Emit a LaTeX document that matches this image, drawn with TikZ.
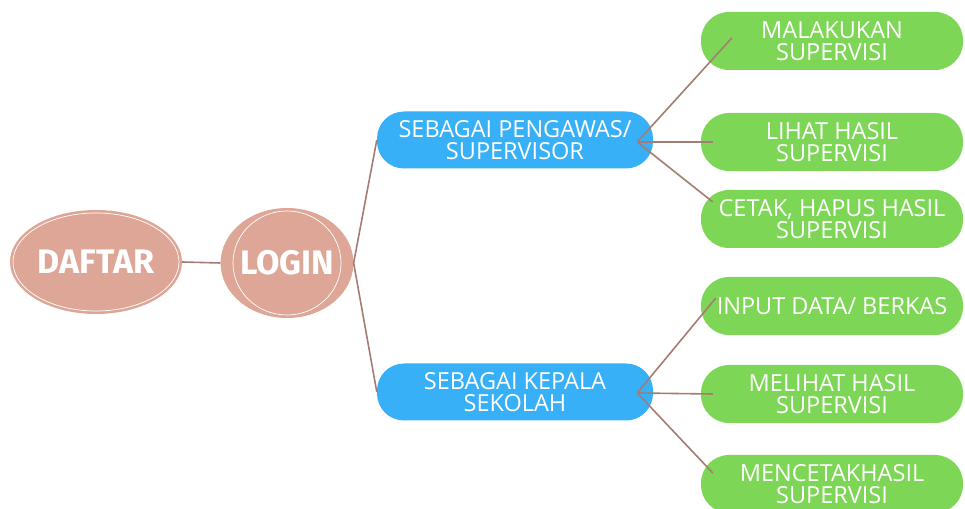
\documentclass[tikz,border=0pt]{standalone}
\usepackage{fontspec}
\setmainfont{Open Sans}
\newfontfamily\headfont{Fira Sans}
\usetikzlibrary{shapes.geometric,calc}
\definecolor{pinkfill}{RGB}{222,166,150}
\definecolor{roleblue}{RGB}{56,176,248}
\definecolor{taskgreen}{RGB}{126,214,86}
\definecolor{linkbrown}{RGB}{165,124,114}

\begin{document}
\begin{tikzpicture}[x=1pt,y=1pt,
  oval/.style={ellipse,fill=pinkfill,text=white,inner sep=0pt,font=\headfont\bfseries\fontsize{34}{34}\selectfont},
  role/.style={rectangle,rounded corners=27pt,fill=roleblue,text=white,minimum width=276pt,minimum height=57pt,align=center,inner sep=0pt,font=\fontsize{23.5}{22}\selectfont},
  task/.style={rectangle,rounded corners=28pt,fill=taskgreen,text=white,minimum width=262pt,minimum height=58pt,align=center,inner sep=0pt,font=\fontsize{23.5}{22}\selectfont},
  link/.style={draw=linkbrown,line width=1.6pt}]
\pgfmathsetmacro{\gx}{832}
\useasboundingbox (0,0) rectangle (965,508);
%
\node[oval,minimum width=172pt,minimum height=104pt](daftar) at (96,246){DAFTAR};
\node[oval,minimum width=114pt,minimum height=110pt](login) at (287,245){LOGIN};
\draw[white,line width=0.7pt] (daftar.center) ellipse (83pt and 49pt);
\draw[white,line width=0.7pt] (login.center) ellipse (54pt and 52pt);
%
\node[role](sup) at (515,368){SEBAGAI PENGAWAS/\\SUPERVISOR};
\node[role](kep) at (515,116){SEBAGAI KEPALA\\SEKOLAH};
%
\node[task](g1) at (\gx,467){MALAKUKAN\\SUPERVISI};
\node[task](g2) at (\gx,366){LIHAT HASIL\\SUPERVISI};
\node[task](g3) at (\gx,289){CETAK, HAPUS HASIL\\SUPERVISI};
\node[task](g4) at (\gx,202){INPUT DATA/ BERKAS};
\node[task](g5) at (\gx,114){MELIHAT HASIL\\SUPERVISI};
\node[task](g6) at (\gx,24){MENCETAKHASIL\\SUPERVISI};
%
\coordinate (supR) at ($(sup.east)+(-16,-2)$);
\coordinate (kepR) at ($(kep.east)+(-16,-1)$);
\draw[link](daftar.east)--(login.west);
\draw[link](login.east)--(sup.west);
\draw[link](login.east)--(kep.west);
\draw[link](supR)--($(g1.west)+(31,3)$);
\draw[link](supR)--($(g2.west)+(12,0)$);
\draw[link](supR)--($(g3.west)+(12,17)$);
\draw[link](kepR)--($(g4.west)+(15,8)$);
\draw[link](kepR)--($(g5.west)+(12,0)$);
\draw[link](kepR)--($(g6.west)+(12,11)$);
\end{tikzpicture}
\end{document}
